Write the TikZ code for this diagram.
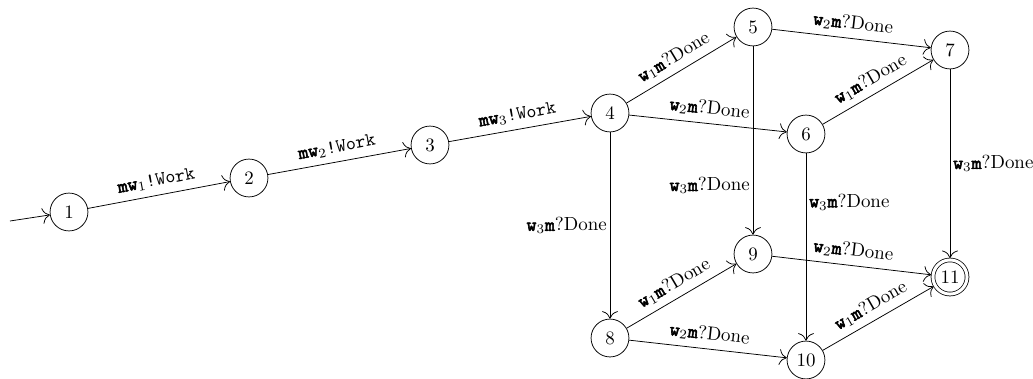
\documentclass[tikz,border=0pt]{standalone}
\usepackage{fontspec}
\usepackage{amsmath}
\usepackage{tikz}
\usetikzlibrary{calc,positioning,arrows.meta}
\newfontfamily\ttbold{lmmono10-regular.otf}[FakeBold=3]
\newcommand{\lblwork}[1]{{\ttbold mw}$_{#1}$\texttt{!Work}}
\newcommand{\lbldone}[1]{{\ttbold w}$_{#1}${\ttbold m}?Done}
\tikzset{
  state/.style={shape=circle,draw,minimum size=20pt,inner sep=0pt},
  final/.style={state,minimum size=18pt,double,double distance=1.6pt,outer sep=1pt},
  lbl/.style={above,sloped,midway},
  vlbl/.style={inner sep=1.5pt}
}
\begin{document}
\begin{tikzpicture}[x=0.528pt,y=-0.528pt,>={To[scale=1.6]}]
	\useasboundingbox (0,0) rectangle (1033,378);
	% work phase
	\coordinate (start) at (10,221);
	\node(1) at (69,212) [state] {1};
	\node(2) at (249,178) [state] {2};
	\node(3) at (430,145) [state] {3};
	\node(4) at (610,113) [state] {4};
	\draw[->] (start) -- (1);
	\draw[->] (1) -- (2) node [lbl] {\lblwork{1}};
	\draw[->] (2) -- (3) node [lbl] {\lblwork{2}};
	\draw[->] (3) -- (4) node [lbl] {\lblwork{3}};
	% done phase
	\node(5) at (753,27) [state] {5};
	\node(6) at (806,134) [state] {6};
	\node(7) at (950,50) [state] {7};
	\node(8) at (610,338) [state] {8};
	\node(9) at (753,254) [state] {9};
	\node(10) at (806,360) [state] {10};
	\node(11) at (950,277) [final] {11};
	\draw[->] (4) -- (5) node [lbl] {\lbldone{1}};
	\draw[->] (4) -- (6) node [lbl] {\lbldone{2}};
	\draw[->] (4) -- (8) node [vlbl,left,midway] {\lbldone{3}};
	\draw[->] (5) -- (7) node [lbl] {\lbldone{2}};
	\draw[->] (5) -- (9) node [vlbl,left,pos=0.74] {\lbldone{3}};
	\draw[->] (6) -- (7) node [lbl] {\lbldone{1}};
	\draw[->] (6) -- (10) node [vlbl,right,pos=0.26] {\lbldone{3}};
	\draw[->] (7) -- (11) node [vlbl,right,midway] {\lbldone{3}};
	\draw[->] (8) -- (9) node [lbl] {\lbldone{1}};
	\draw[->] (8) -- (10) node [lbl] {\lbldone{2}};
	\draw[->] (9) -- (11) node [lbl] {\lbldone{2}};
	\draw[->] (10) -- (11) node [lbl] {\lbldone{1}};
\end{tikzpicture}
\end{document}
